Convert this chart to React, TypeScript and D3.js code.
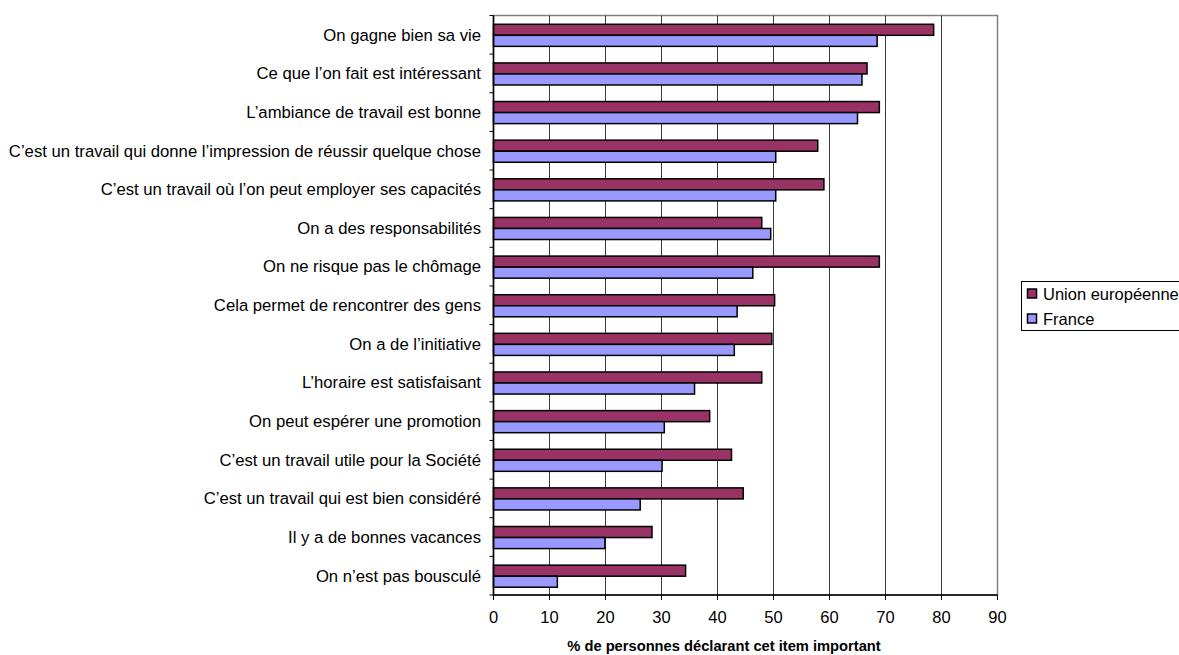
import React from "react";
import * as d3 from "d3";

const categories = [
  "On gagne bien sa vie",
  "Ce que l’on fait est intéressant",
  "L’ambiance de travail est bonne",
  "C’est un travail qui donne l’impression de réussir quelque chose",
  "C’est un travail où l’on peut employer ses capacités",
  "On a des responsabilités",
  "On ne risque pas le chômage",
  "Cela permet de rencontrer des gens",
  "On a de l’initiative",
  "L’horaire est satisfaisant",
  "On peut espérer une promotion",
  "C’est un travail utile pour la Société",
  "C’est un travail qui est bien considéré",
  "Il y a de bonnes vacances",
  "On n’est pas bousculé",
];

const euValues = [78.6, 66.7, 68.9, 57.9, 59.0, 47.9, 68.9, 50.2, 49.7, 47.9, 38.6, 42.5, 44.6, 28.3, 34.3];
const frValues = [68.5, 65.8, 65.0, 50.4, 50.4, 49.5, 46.3, 43.5, 43.0, 35.9, 30.5, 30.1, 26.2, 19.9, 11.4];

const seriesNames = ["Union européenne", "France"];
const seriesColors = ["#993366", "#9999FF"];
const xTicks = [0, 10, 20, 30, 40, 50, 60, 70, 80, 90];
const xTitle = "% de personnes déclarant cet item important";

export default function App() {
  const W = 1179, H = 655;
  const left = 493.5, right = 997.5, top = 15.5, bottom = 595;
  const x = d3.scaleLinear().domain([0, 90]).range([left, right]);
  const y = d3.scaleBand<string>().domain(categories).range([top, bottom]).padding(0);
  const bw = y.bandwidth();
  const barH = bw / 3.5;
  const font = "'Liberation Sans', Arial, sans-serif";
  const series = [euValues, frValues];

  return (
    <svg width={W} height={H} style={{ position: "absolute", left: 0, top: 0, background: "#fff" }} fontFamily={font}>
      <rect x={0} y={0} width={W} height={H} fill="#fff" />
      {/* plot border */}
      <rect x={left} y={top} width={right - left} height={bottom - top} fill="none" stroke="#808080" strokeWidth={1.5} />
      {/* gridlines */}
      {xTicks.slice(1, -1).map((t) => (
        <line key={"g" + t} x1={x(t)} x2={x(t)} y1={top} y2={bottom} stroke="#3a3a3a" strokeWidth={1} />
      ))}
      {/* bars */}
      {categories.map((c, i) => {
        const cy = (y(c) as number) + bw / 2 + 0.5;
        return series.map((vals, s) => (
          <rect
            key={c + s}
            x={x(0)}
            y={cy - barH + s * barH}
            width={x(vals[i]) - x(0)}
            height={barH}
            fill={seriesColors[s]}
            stroke="#000"
            strokeWidth={1.5}
          />
        ));
      })}
      {/* axes */}
      <line x1={left} x2={left} y1={top} y2={bottom} stroke="#000" strokeWidth={1.5} />
      <line x1={left} x2={right} y1={bottom} y2={bottom} stroke="#000" strokeWidth={1.5} />
      {d3.range(categories.length + 1).map((i) => {
        const yy = top + i * bw;
        return <line key={"yt" + i} x1={left - 4} x2={left} y1={yy} y2={yy} stroke="#000" strokeWidth={1} />;
      })}
      {xTicks.map((t) => (
        <g key={"xt" + t}>
          <line x1={x(t)} x2={x(t)} y1={bottom} y2={bottom + 5} stroke="#000" strokeWidth={1} />
          <text x={x(t)} y={623} textAnchor="middle" fontSize={16.5} fill="#000">
            {t}
          </text>
        </g>
      ))}
      {categories.map((c) => (
        <text
          key={"l" + c}
          x={481}
          y={(y(c) as number) + bw / 2}
          dy="0.35em"
          textAnchor="end"
          fontSize={16.7}
          fill="#000"
        >
          {c}
        </text>
      ))}
      <text x={724} y={651} textAnchor="middle" fontSize={14.7} fontWeight="bold" fill="#000">
        {xTitle}
      </text>
      {/* legend */}
      <rect x={1021.5} y={281.5} width={170} height={49} fill="#fff" stroke="#000" strokeWidth={1} />
      {seriesNames.map((n, i) => (
        <g key={n}>
          <rect x={1027.5} y={289 + i * 25} width={9} height={9} fill={seriesColors[i]} stroke="#000" strokeWidth={1.5} />
          <text x={1043} y={300 + i * 24.5} fontSize={16.5} fill="#000">
            {n}
          </text>
        </g>
      ))}
    </svg>
  );
}
